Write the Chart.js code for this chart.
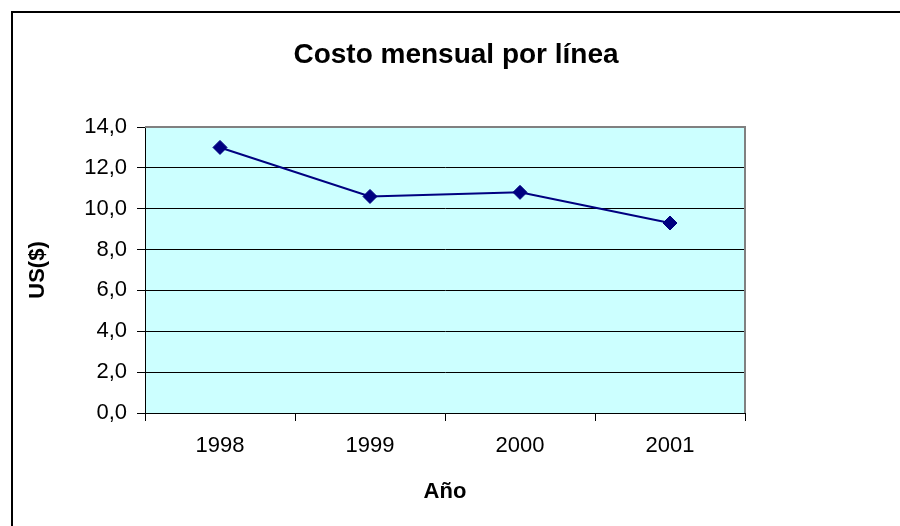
<!DOCTYPE html>
<html>
<head>
<meta charset="utf-8">
<script src="https://cdn.jsdelivr.net/npm/chart.js@4/dist/chart.umd.min.js"></script>
<style>
  html, body { margin: 0; padding: 0; background: #fff; overflow: hidden; }
  #wrap { position: relative; width: 900px; height: 526px; }
</style>
</head>
<body>
<div id="wrap"><canvas id="chart" width="900" height="526"></canvas></div>
<script>
// data
const years = ['1998', '1999', '2000', '2001'];
const monthlyCost = [13.0, 10.6, 10.8, 9.3];
const chartTitle = 'Costo mensual por línea';
const xTitle = 'Año';
const yTitle = 'US($)';

const FONT = '"Liberation Sans", Arial, sans-serif';

// excel-ish frame: cyan plot background, grey top/right edge, black outer border, title
const excelLook = {
  id: 'excelLook',
  beforeDraw(chart) {
    const ctx = chart.ctx;
    const a = chart.chartArea;
    ctx.save();
    ctx.fillStyle = '#fff';
    ctx.fillRect(0, 0, chart.width, chart.height);
    // outer chart border (only top/left visible, rest is cropped)
    ctx.fillStyle = '#000';
    ctx.fillRect(11, 11, chart.width - 11, 2);
    ctx.fillRect(11, 11, 2, chart.height - 11);
    ctx.fillStyle = '#CCFFFF';
    ctx.fillRect(a.left, a.top, a.right - a.left, a.bottom - a.top);
    // title
    ctx.fillStyle = '#000';
    ctx.font = 'bold 28px ' + FONT;
    ctx.textAlign = 'center';
    ctx.textBaseline = 'alphabetic';
    ctx.fillText(chartTitle, 456, 63);
    ctx.restore();
  },
  beforeDatasetsDraw(chart) {
    const ctx = chart.ctx;
    const a = chart.chartArea;
    ctx.save();
    ctx.strokeStyle = '#808080';
    ctx.lineWidth = 2;
    ctx.beginPath();
    ctx.moveTo(a.left, a.top);
    ctx.lineTo(a.right, a.top);
    ctx.lineTo(a.right, a.bottom);
    ctx.stroke();
    ctx.restore();
  }
};

new Chart(document.getElementById('chart'), {
  type: 'line',
  data: {
    labels: years,
    datasets: [{
      label: 'Costo',
      data: monthlyCost,
      borderColor: '#000080',
      backgroundColor: '#000080',
      borderWidth: 2,
      pointStyle: 'rectRot',
      pointRadius: 7,
      pointBorderWidth: 1,
      pointBackgroundColor: '#000080',
      pointBorderColor: '#000080',
      tension: 0
    }]
  },
  options: {
    responsive: false,
    animation: false,
    layout: { padding: { top: 127, right: 155, bottom: 0, left: 0 } },
    plugins: {
      legend: { display: false },
      tooltip: { enabled: false },
      title: { display: false }
    },
    scales: {
      x: {
        type: 'category',
        offset: true,
        grid: {
          offset: true,
          drawOnChartArea: false,
          drawTicks: true,
          tickLength: 8,
          color: '#000'
        },
        border: { color: '#000', width: 1 },
        ticks: { color: '#000', font: { family: FONT, size: 22 }, padding: 12, maxRotation: 0 },
        title: {
          display: true,
          text: xTitle,
          color: '#000',
          font: { family: FONT, size: 22, weight: 'bold' },
          padding: { top: 0, bottom: 21 }
        },
        afterFit(scale) { scale.height = 113; }
      },
      y: {
        min: 0,
        max: 14,
        grid: { color: '#000', lineWidth: 1, tickLength: 8 },
        border: { color: '#000', width: 1 },
        ticks: {
          stepSize: 2,
          color: '#000',
          padding: 10,
          font: { family: FONT, size: 22 },
          callback: v => v.toFixed(1).replace('.', ',')
        },
        title: {
          display: true,
          text: yTitle,
          color: '#000',
          font: { family: FONT, size: 22, weight: 'bold' },
          padding: { top: 25, bottom: 0 }
        },
        afterFit(scale) { scale.width = 145; }
      }
    }
  },
  plugins: [excelLook]
});
</script>
</body>
</html>
